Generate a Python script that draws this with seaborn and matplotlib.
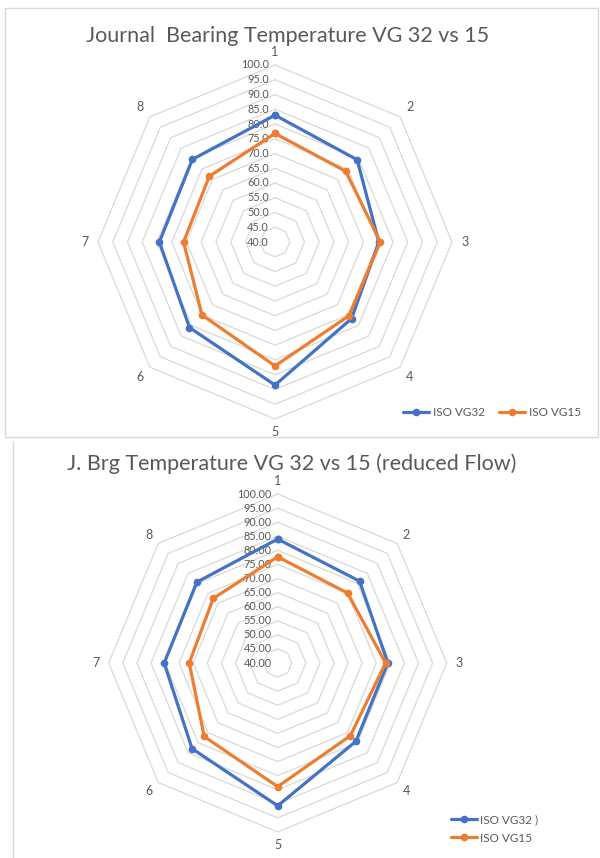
import numpy as np
import pandas as pd
import matplotlib
matplotlib.use("Agg")
import matplotlib.pyplot as plt
from matplotlib.lines import Line2D
from matplotlib.patches import Rectangle
import seaborn as sns

# ---- data -------------------------------------------------------------
axes_labels = ["1", "2", "3", "4", "5", "6", "7", "8"]
series_names_top = ["ISO VG32", "ISO VG15"]
series_names_bottom = ["ISO VG32 )", "ISO VG15"]

top_vg32 = [83.0, 79.4, 75.2, 76.7, 88.5, 81.0, 79.2, 79.6]
top_vg15 = [76.8, 73.9, 75.7, 75.4, 82.0, 75.0, 71.0, 71.5]

bottom_vg32 = [84.0, 81.1, 79.1, 79.3, 90.7, 83.0, 80.3, 80.6]
bottom_vg15 = [77.7, 75.1, 78.3, 76.5, 83.9, 76.9, 71.4, 72.4]

ring_values = [40, 45, 50, 55, 60, 65, 70, 75, 80, 85, 90, 95, 100]

title_top = "Journal  Bearing Temperature VG 32 vs 15"
title_bottom = "J. Brg Temperature VG 32 vs 15 (reduced Flow)"

# ---- style --------------------------------------------------------------
sns.set_theme(style="white")
plt.rcParams["font.family"] = ["Lato", "DejaVu Sans"]

BLUE = "#4472C4"
ORANGE = "#ED7D31"
GRID = "#D9D9D9"
TEXT = "#595959"

W, H = 600, 858
fig = plt.figure(figsize=(W / 100, H / 100), dpi=100)
fig.patch.set_facecolor("white")

r_min, r_max = ring_values[0], ring_values[-1]
n = len(axes_labels)
angles = np.deg2rad(90 - 45 * np.arange(n))


def radar(cx, cy, radius_px, half_px, vg32, vg15, names, tick_fmt):
    """Radar panel centred at pixel (cx, cy) with the outer ring radius_px."""
    span = r_max - r_min
    lim = half_px / radius_px * span
    ax = fig.add_axes([(cx - half_px) / W, 1 - (cy + half_px) / H,
                       2 * half_px / W, 2 * half_px / H])
    ax.set_xlim(-lim, lim)
    ax.set_ylim(-lim, lim)
    ax.axis("off")

    # polygon rings
    closed = np.append(angles, angles[0])
    for v in ring_values[1:]:
        r = v - r_min
        ax.plot(r * np.cos(closed), r * np.sin(closed), color=GRID,
                lw=0.9, zorder=1)

    # ring value labels along the first axis
    px = span / radius_px
    for v in ring_values:
        ax.text(-6 * px, v - r_min, tick_fmt.format(v), ha="right",
                va="center", fontsize=7.8, color=TEXT, zorder=2)

    # category labels
    lab_r = 64.5
    for a, lab in zip(angles, axes_labels):
        ax.text(lab_r * np.cos(a), lab_r * np.sin(a), lab, ha="center",
                va="center", fontsize=9, color=TEXT, clip_on=False)

    # series
    rows = []
    for name, vals in zip(names, [vg32, vg15]):
        vv = list(vals) + [vals[0]]
        aa = list(angles) + [angles[0]]
        for i, (v, a) in enumerate(zip(vv, aa)):
            rows.append({"series": name, "order": i,
                         "x": (v - r_min) * np.cos(a),
                         "y": (v - r_min) * np.sin(a)})
    df = pd.DataFrame(rows)
    sns.lineplot(data=df, x="x", y="y", hue="series", units="series",
                 estimator=None, sort=False, marker="o", markersize=5.5,
                 markeredgewidth=0, linewidth=2.3,
                 palette={names[0]: BLUE, names[1]: ORANGE},
                 legend=False, ax=ax, zorder=3)
    ax.set_xlabel("")
    ax.set_ylabel("")
    return ax


def handles(names):
    return [Line2D([0], [0], color=c, lw=2.3, marker="o", markersize=5.5,
                   markeredgewidth=0) for c in (BLUE, ORANGE)]


# ---- top panel ----------------------------------------------------------
fig.patches.append(Rectangle((5 / W, 1 - 437 / H), 593 / W, 429 / H,
                             transform=fig.transFigure, fill=False,
                             edgecolor=GRID, lw=1.0))
radar(275, 242, 177, 215, top_vg32, top_vg15, series_names_top, "{:.1f}")
fig.text(288 / W, 1 - 36 / H, title_top, ha="center", va="center",
         fontsize=15.5, color=TEXT)
fig.legend(handles(series_names_top), series_names_top, ncol=2,
           loc="center", bbox_to_anchor=(492 / W, 1 - 413 / H),
           frameon=False, fontsize=8.5, labelcolor=TEXT, handlelength=2.2,
           handletextpad=0.3, columnspacing=1.2)

# ---- bottom panel -------------------------------------------------------
fig.lines.append(Line2D([13 / W, 13 / W], [1 - 441 / H, 0],
                        transform=fig.transFigure, color=GRID, lw=1.0))
radar(277.7, 663, 169, 200, bottom_vg32, bottom_vg15, series_names_bottom,
      "{:.2f}")
fig.text(292 / W, 1 - 464 / H, title_bottom, ha="center", va="center",
         fontsize=15.5, color=TEXT)
fig.legend(handles(series_names_bottom), series_names_bottom, ncol=1,
           loc="center left", bbox_to_anchor=(440 / W, 1 - 829 / H),
           frameon=False, fontsize=8.5, labelcolor=TEXT, handlelength=2.2,
           handletextpad=0.3, labelspacing=0.6)

fig.savefig("out.png", dpi=100, facecolor="white")
